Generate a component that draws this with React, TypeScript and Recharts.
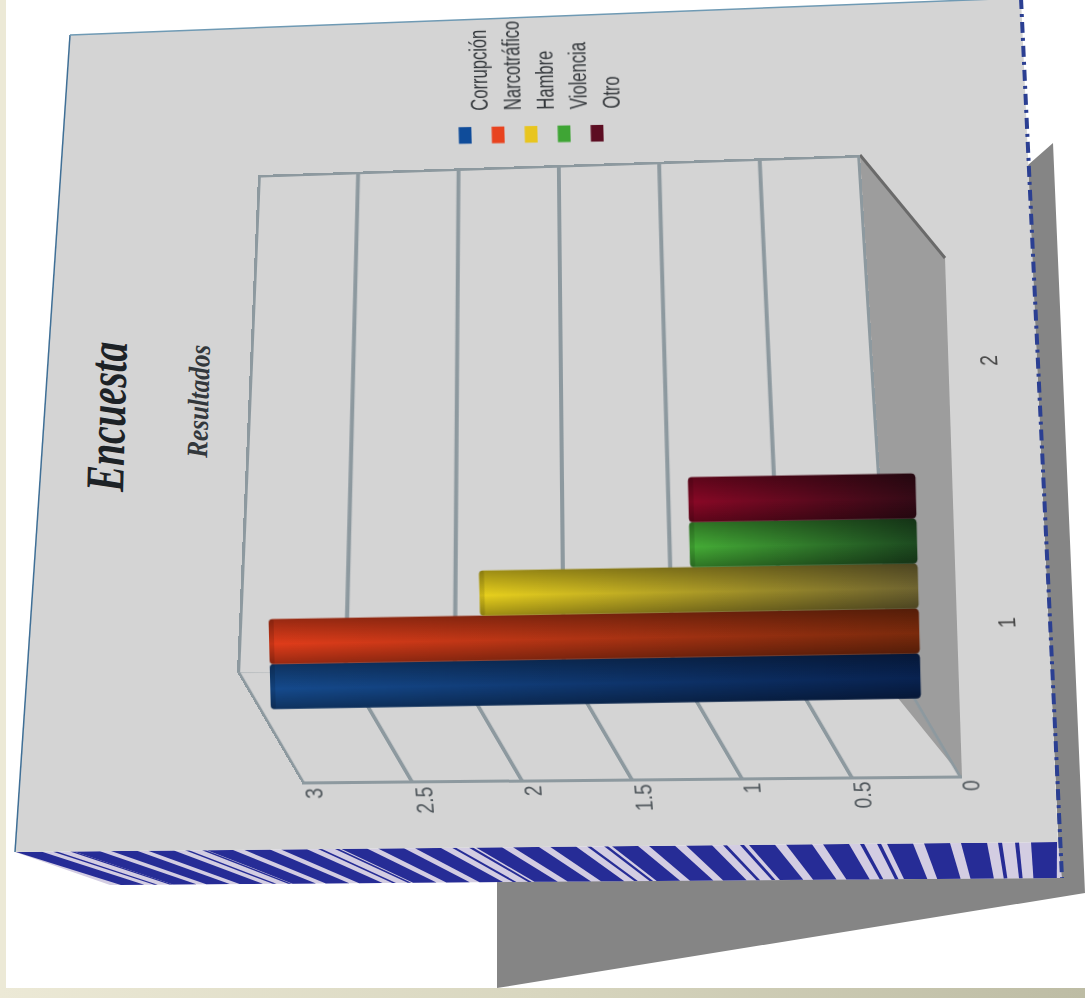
import React from "react";
import { BarChart, Bar, XAxis, YAxis, Legend, ReferenceLine } from "recharts";

const categories = ["1", "2"];
const corrupcion = [3, 0];
const narcotrafico = [3, 0];
const hambre = [2, 0];
const violencia = [1, 0];
const otro = [1, 0];
const valueTicks = [0, 0.5, 1, 1.5, 2, 2.5, 3];

const seriesNames = ["Corrupción", "Narcotráfico", "Hambre", "Violencia", "Otro"];
const seriesValues = [corrupcion, narcotrafico, hambre, violencia, otro];
const legendColors = ["#0f4c9a", "#e8431f", "#e8c51f", "#3fa535", "#5c0d22"];
const brightColors = ["#154a8c", "#e03c1a", "#e8d01c", "#45ad36", "#8a0826"];
const darkColors = ["#082250", "#7a2a0c", "#6f6430", "#1d4a20", "#340a16"];

const rows = categories.map((c, i) => {
  const r: Record<string, any> = { cat: c };
  seriesNames.forEach((n, j) => {
    r[n] = seriesValues[j][i];
  });
  return r;
});

type P = [number, number];

// CSS matrix3d taking a W x H box onto a four-cornered shape [TL, TR, BR, BL]
function warp(W: number, H: number, q: P[]) {
  const [[x0, y0], [x1, y1], [x2, y2], [x3, y3]] = q;
  const dx1 = x1 - x2, dx2 = x3 - x2, sx = x0 - x1 + x2 - x3;
  const dy1 = y1 - y2, dy2 = y3 - y2, sy = y0 - y1 + y2 - y3;
  const den = dx1 * dy2 - dx2 * dy1;
  const g = (sx * dy2 - dx2 * sy) / den;
  const h = (dx1 * sy - sx * dy1) / den;
  const a = x1 - x0 + g * x1, b = x3 - x0 + h * x3, c = x0;
  const d = y1 - y0 + g * y1, e = y3 - y0 + h * y3, f = y0;
  const m = [a / W, d / W, 0, g / W, b / H, e / H, 0, h / H, 0, 0, 1, 0, c, f, 0, 1];
  return `matrix3d(${m.join(",")})`;
}

const LW = 998;
const LH = 1085;
// the turned page: chart x runs up the screen, chart y runs right
function turned(kx: number, refY: number, ky: number, refX: number): P[] {
  const at = (cx: number, cy: number): P => {
    const s = LW - cx;
    return [cy + kx * (s - refY), s - ky * (cy - refX)];
  };
  return [at(0, 0), at(LW, 0), at(LW, LH), at(0, LH)];
}

const layer = (transform: string): React.CSSProperties => ({
  position: "absolute",
  left: 0,
  top: 0,
  transform,
  transformOrigin: "0 0",
});

const SANS = '"Liberation Sans", Arial, sans-serif';
const GRID = "#8d999f";

function Plane({ quad, edgeAt }: { quad: P[]; edgeAt: number }) {
  const W = 520;
  const H = 620;
  return (
    <div style={layer(warp(W, H, quad))}>
      <BarChart width={W} height={H} data={rows} margin={{ top: 0, right: 0, bottom: 0, left: 0 }}>
        <XAxis type="number" domain={[0, 1]} hide />
        <YAxis domain={[0, 3]} hide />
        <Bar dataKey={seriesNames[0]} fill="none" isAnimationActive={false} />
        {valueTicks.map((t) => (
          <ReferenceLine key={t} y={t} stroke={GRID} strokeWidth={t === 0 || t === 3 ? 6 : 4} />
        ))}
        <ReferenceLine x={edgeAt} stroke={GRID} strokeWidth={6} />
      </BarChart>
    </div>
  );
}

// narrow, tall label: the original type is a condensed face
function NarrowTick(props: any) {
  const { x, y, payload, textAnchor, fill } = props;
  return (
    <g transform={`translate(${x},${y}) scale(0.84,1)`}>
      <text x={0} y={0} dy="0.35em" textAnchor={textAnchor} fontSize={23} fontFamily={SANS} fill={fill}>
        {payload.value}
      </text>
    </g>
  );
}

function CylinderBar(props: any) {
  const { x, y, width, height, seriesIndex } = props;
  if (!height || height <= 0) return null;
  const i = seriesIndex ?? 0;
  const foot = 16; // the bar's base runs forward of the zero line in the 3-D drawing
  return (
    <g>
      <rect x={x} y={y} width={width} height={height + foot} rx={4} fill={`url(#len${i})`} />
      <rect x={x} y={y} width={width} height={height + foot} rx={4} fill="url(#cross)" />
      <rect x={x} y={y} width={width} height={5} rx={2} fill="#000" fillOpacity={0.12} />
    </g>
  );
}

const stripeGroups = [887, 749, 612, 476, 341, 207, 74, -58];

function Decor() {
  const bottomOf = (x: number) => x + (1 - (x - 15) / 1040) * 105;
  const topY = (x: number) => 852 - (x - 15) * 0.0096;
  const lowY = (x: number) => 885 - (x - 110) * 0.0074;
  const strip = (t: number, w: number, key: string) => {
    if (t + w < 15) return null;
    const a = Math.max(t, 15);
    const b = t + w;
    return (
      <polygon
        key={key}
        points={`${a},${topY(a)} ${b},${topY(b)} ${bottomOf(b)},${lowY(bottomOf(b))} ${bottomOf(a)},${lowY(bottomOf(a))}`}
        fill="#262c96"
      />
    );
  };
  return (
    <svg width={1085} height={998} style={{ position: "absolute", left: 0, top: 0 }}>
      <defs>
        <linearGradient id="band" x1="0" x2="1" y1="0" y2="0">
          <stop offset="0" stopColor="#ece9d6" />
          <stop offset="0.5" stopColor="#d8d6bf" />
          <stop offset="1" stopColor="#bdbca4" />
        </linearGradient>
      </defs>
      <rect x={0} y={0} width={1085} height={998} fill="#fff" />
      <rect x={0} y={0} width={6} height={998} fill="#ece9d6" />
      <rect x={0} y={988} width={1085} height={10} fill="url(#band)" />
      <polygon points="1028,165 1053,143 1085,893 497,988 497,880 1060,878" fill="#858585" />
      <polygon points="15,852 1058,842 1062,878 110,885" fill="#d3cde2" />
      {stripeGroups.map((g, i) => (
        <g key={i}>
          {strip(g, 26, `a${i}`)}
          {strip(g + 37, 26, `b${i}`)}
          {strip(g + 74, 26, `c${i}`)}
          {strip(g + 111, 4, `d${i}`)}
          {strip(g + 128, 4, `e${i}`)}
        </g>
      ))}
      {strip(1031, 26, "end")}
      <polygon points="70,35 1021,-2 1058,842 15,852" fill="#d4d4d4" />
      <line x1={70} y1={35} x2={15} y2={852} stroke="#3f6f96" strokeWidth={1.5} />
      <line x1={70} y1={35} x2={1021} y2={-2} stroke="#6f9ab4" strokeWidth={1.5} />
      <line x1={1021} y1={-2} x2={1062} y2={878} stroke="#2b3f92" strokeWidth={4} strokeDasharray="11 5 3 5" />
      <polygon points="860,157 945,258 962,777 893,692" fill="#9d9d9d" />
      <line x1={860} y1={155} x2={945} y2={258} stroke="#6a6a6a" strokeWidth={3} />
      <line x1={302} y1={783} x2={962} y2={777} stroke={GRID} strokeWidth={3} />
      <text
        transform="translate(123,492) rotate(-88.5) scale(0.93,1.3)"
        fontFamily='"Liberation Serif", serif'
        fontWeight="bold"
        fontStyle="italic"
        fontSize={42}
        fill="#1d2226"
      >
        Encuesta
      </text>
      <text
        transform="translate(207,458) rotate(-88.5) scale(0.93,1.1)"
        fontFamily='"Liberation Serif", serif'
        fontStyle="italic"
        fontWeight="bold"
        fontSize={27}
        fill="#33383c"
      >
        Resultados
      </text>
    </svg>
  );
}

export default function App() {
  return (
    <div
      style={{
        position: "fixed",
        left: 0,
        top: 0,
        width: 1085,
        height: 998,
        overflow: "hidden",
        background: "#fff",
        filter: "blur(0.7px)",
      }}
    >
      <Decor />
      <Plane
        edgeAt={1}
        quad={[
          [237, 672],
          [258, 175],
          [860, 155],
          [891, 651],
        ]}
      />
      <Plane
        edgeAt={1}
        quad={[
          [302, 783],
          [237, 672],
          [897, 666],
          [962, 777],
        ]}
      />
      {/* value and category labels */}
      <div style={layer(warp(LW, LH, turned(0.069, 622, 0.012, 640)))}>
        <BarChart width={LW} height={LH} data={rows} margin={{ top: 303, right: 234, bottom: 65, left: 0 }}>
          <XAxis
            dataKey="cat"
            height={60}
            tickLine={false}
            axisLine={false}
            tickMargin={41}
            tick={<NarrowTick fill="#444" />}
          />
          <YAxis
            domain={[0, 3]}
            ticks={valueTicks}
            width={240}
            tickLine={false}
            axisLine={false}
            tickMargin={20}
            tick={<NarrowTick fill="#50575c" />}
          />
          <Bar dataKey={seriesNames[0]} fill="none" isAnimationActive={false} />
        </BarChart>
      </div>
      {/* bars and legend */}
      <div style={layer(warp(LW, LH, turned(0.025, 590, 0.0165, 593)))}>
        <BarChart
          width={LW}
          height={LH}
          data={rows}
          barCategoryGap="7%"
          barGap={0}
          margin={{ top: 268, right: 202, bottom: 183, left: 276 }}
        >
          <defs>
            {seriesNames.map((n, i) => (
              <linearGradient key={n} id={`len${i}`} x1="0" x2="0" y1="0" y2="1">
                <stop offset="0" stopColor={brightColors[i]} />
                <stop offset="1" stopColor={darkColors[i]} />
              </linearGradient>
            ))}
            <linearGradient id="cross" x1="0" x2="1" y1="0" y2="0">
              <stop offset="0" stopColor="#000" stopOpacity={0.32} />
              <stop offset="0.45" stopColor="#000" stopOpacity={0} />
              <stop offset="1" stopColor="#000" stopOpacity={0.32} />
            </linearGradient>
          </defs>
          <XAxis dataKey="cat" hide />
          <YAxis domain={[0, 3]} hide />
          <Legend
            layout="vertical"
            align="center"
            verticalAlign="middle"
            iconType="rect"
            iconSize={17}
            itemSorter={null}
            wrapperStyle={{ left: 856, top: 457, width: 140, lineHeight: "30px", textAlign: "left" }}
            formatter={(v: string) => (
              <span
                style={{
                  color: "#33373b",
                  fontFamily: SANS,
                  fontSize: 23,
                  marginLeft: 12,
                  position: "relative",
                  top: 20,
                  display: "inline-block",
                  transform: "scaleX(0.72)",
                  transformOrigin: "0 50%",
                  whiteSpace: "nowrap",
                }}
              >
                {v}
              </span>
            )}
          />
          {seriesNames.map((n, i) => (
            <Bar
              key={n}
              dataKey={n}
              fill={legendColors[i]}
              isAnimationActive={false}
              shape={(p: any) => <CylinderBar {...p} seriesIndex={i} />}
            />
          ))}
        </BarChart>
      </div>
    </div>
  );
}
